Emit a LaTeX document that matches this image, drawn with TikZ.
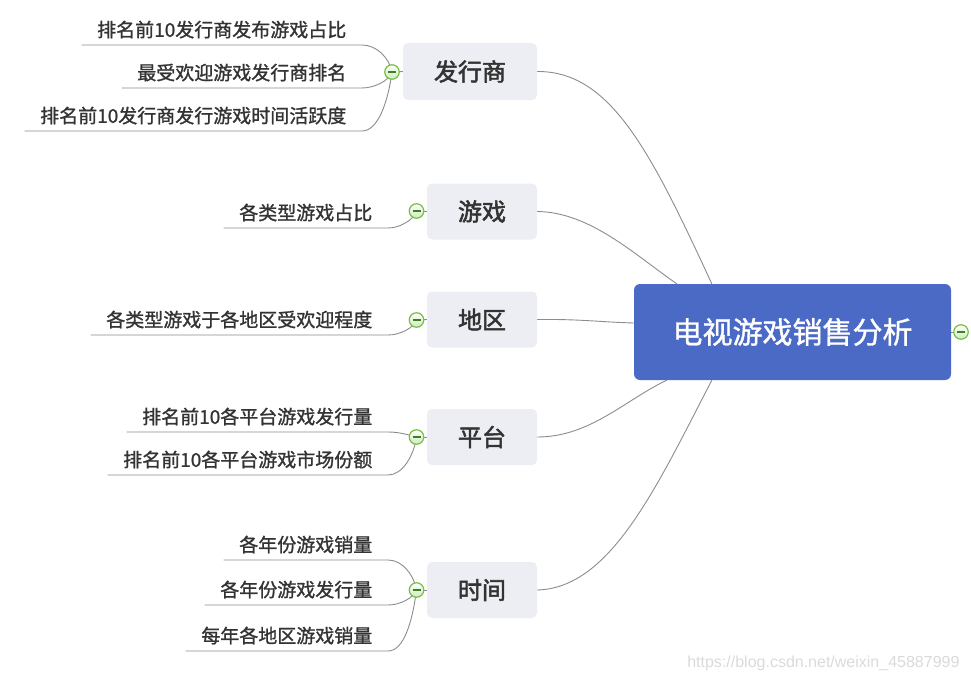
\documentclass[tikz,border=0pt]{standalone}
\usepackage{fontspec}
\newfontfamily\cjk{Noto Sans CJK SC}
\newfontfamily\cjkleaf{Noto Sans CJK SC}[FakeBold=1.2]
\newfontfamily\cjkmed{Noto Sans CJK SC}[FakeBold=2.2]
\newfontfamily\wmfont{Liberation Sans}
\usetikzlibrary{calc}
\definecolor{linegray}{HTML}{8C8C8C}
\definecolor{txt}{HTML}{333333}
\definecolor{lonefill}{HTML}{EDEEF3}
\definecolor{centfill}{HTML}{4A6AC6}
\definecolor{toggreen}{HTML}{78C043}
\definecolor{togfill}{HTML}{CFEBBE}
\definecolor{togdark}{HTML}{3E7F25}
\definecolor{wmgray}{HTML}{DADADA}
\pgfdeclarelayer{bg}
\pgfsetlayers{bg,main}
\begin{document}
\begin{tikzpicture}[x=1pt,y=-1pt,
  conn/.style={draw=linegray, line width=0.9pt},
  centbox/.style={rectangle, rounded corners=6pt, fill=centfill, text=white,
    font=\cjkleaf\fontsize{30}{34}\selectfont, minimum width=317pt, minimum height=96pt, inner sep=0pt},
  lonebox/.style={rectangle, rounded corners=5pt, fill=lonefill, text=txt,
    font=\cjkmed\fontsize{24}{28}\selectfont, minimum width=110pt, minimum height=56pt, inner sep=0pt},
  leaf/.style={font=\cjkleaf\fontsize{19}{22}\selectfont, text=txt, inner xsep=15.5pt, inner ysep=0pt,
    text height=14pt, text depth=8pt, anchor=south east},
  tog/.style={circle, draw=toggreen, line width=1.2pt, top color=white, bottom color=togfill,
    minimum size=14.5pt, inner sep=0pt,
    path picture={\draw[line width=1.4pt, togdark]
      ($(path picture bounding box.center)+(-4pt,0pt)$) -- ++(8pt,0pt);}},
  wm/.style={font=\wmfont\fontsize{16}{18}\selectfont, text=wmgray}
]
\useasboundingbox (0,0) rectangle (971,680);

% central node
\node[centbox] (cent) at (792.5,332) {电视游戏销售分析};
\node[tog] (t0) at (961,332) {};

% level 1
\node[lonebox, minimum width=134pt, minimum height=57pt] (n1) at (470,71.5) {发行商};
\node[lonebox] (n2) at (482,211.5) {游戏};
\node[lonebox] (n3) at (482,319.5) {地区};
\node[lonebox] (n4) at (482,437) {平台};
\node[lonebox] (n5) at (482,590) {时间};

\node[tog] (t1) at (392,72) {};
\node[tog] (t2) at (416.5,211) {};
\node[tog] (t3) at (416.5,320) {};
\node[tog] (t4) at (416.5,437) {};
\node[tog] (t5) at (416.5,590) {};

% entry points on the central node
\coordinate (p1) at ($(cent.north west)+(78,0)$);
\coordinate (p2) at ($(cent.north west)+(43,0)$);
\coordinate (p3) at ($(cent.west)+(0,-9)$);
\coordinate (p4) at ($(cent.south west)+(33,0)$);
\coordinate (p5) at ($(cent.south west)+(78,0)$);

% leaves
\node[leaf] (a1) at (362,45) {排名前10发行商发布游戏占比};
\node[leaf] (a2) at (362,88) {最受欢迎游戏发行商排名};
\node[leaf] (a3) at (362,131) {排名前10发行商发行游戏时间活跃度};
\node[leaf] (b1) at (388,228) {各类型游戏占比};
\node[leaf] (c1) at (388,335) {各类型游戏于各地区受欢迎程度};
\node[leaf] (d1) at (388,432) {排名前10各平台游戏发行量};
\node[leaf] (d2) at (388,475) {排名前10各平台游戏市场份额};
\node[leaf] (e1) at (388,560) {各年份游戏销量};
\node[leaf] (e2) at (388,605) {各年份游戏发行量};
\node[leaf] (e3) at (388,651) {每年各地区游戏销量};

\node[wm, anchor=east] (wm) at (963,663) {https://blog.csdn.net/weixin\_45887999};

\begin{pgfonlayer}{bg}
% central connectors
\draw[conn] (n1.east) .. controls (610,71) and (650,150) .. (p1);
\draw[conn] (n2.east) .. controls (590,212) and (635,255) .. (p2);
\draw[conn] (n3.east) .. controls (580,319) and (600,322) .. (p3);
\draw[conn] (n4.east) .. controls (590,437) and (625,400) .. (p4);
\draw[conn] (n5.east) .. controls (610,588) and (655,490) .. (p5);
% stubs
\draw[conn] (cent.east) -- (t0.center);
\draw[conn] (t1.center) -- (n1.west);
\draw[conn] (t2.center) -- (n2.west);
\draw[conn] (t3.center) -- (n3.west);
\draw[conn] (t4.center) -- (n4.west);
\draw[conn] (t5.center) -- (n5.west);
% leaf connectors
\draw[conn] (a1.south west) -- (a1.south east) .. controls +(14,0) and +(-3,-15) .. (t1.center);
\draw[conn] (a2.south west) -- (a2.south east) .. controls +(12,0) and +(-3,9) .. (t1.center);
\draw[conn] (a3.south west) -- (a3.south east) .. controls +(16,0) and +(-4,30) .. (t1.center);
\draw[conn] (b1.south west) -- (b1.south east) .. controls +(12,0) and +(-3,9) .. (t2.center);
\draw[conn] (c1.south west) -- (c1.south east) .. controls +(12,0) and +(-3,8) .. (t3.center);
\draw[conn] (d1.south west) -- (d1.south east) .. controls +(12,0) and +(-8,-2) .. (t4.center);
\draw[conn] (d2.south west) -- (d2.south east) .. controls +(14,0) and +(-3,20) .. (t4.center);
\draw[conn] (e1.south west) -- (e1.south east) .. controls +(14,0) and +(-3,-16) .. (t5.center);
\draw[conn] (e2.south west) -- (e2.south east) .. controls +(12,0) and +(-3,8) .. (t5.center);
\draw[conn] (e3.south west) -- (e3.south east) .. controls +(16,0) and +(-4,31) .. (t5.center);
\end{pgfonlayer}
\end{tikzpicture}
\end{document}
